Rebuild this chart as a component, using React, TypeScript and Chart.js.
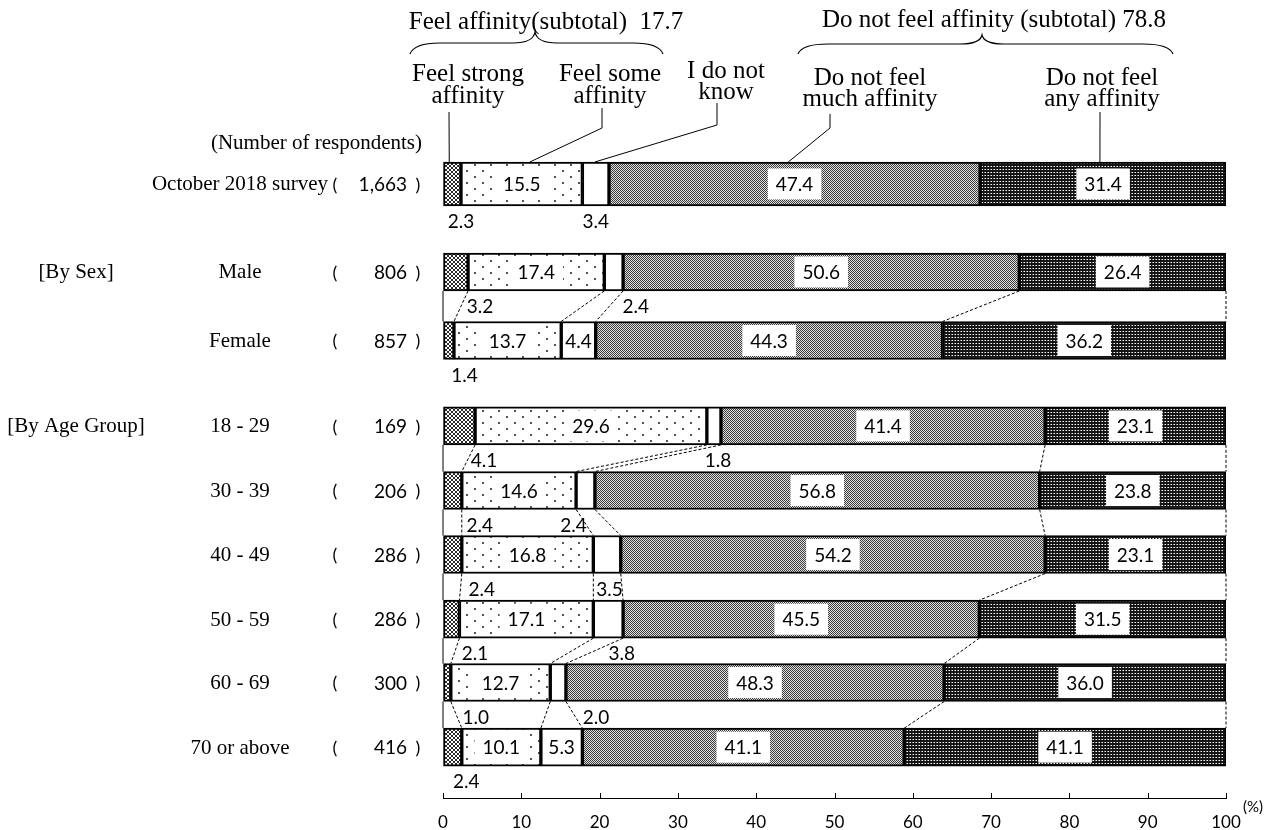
import React, { useEffect, useRef } from 'react';
import { Chart, registerables } from 'chart.js';

Chart.register(...registerables);

// ---------- data ----------
const categories = ['October 2018 survey', 'Male', 'Female', '18 - 29', '30 - 39', '40 - 49', '50 - 59', '60 - 69', '70 or above'];
const respondents = ['1,663', '806', '857', '169', '206', '286', '286', '300', '416'];
const seriesNames = ['Feel strong affinity', 'Feel some affinity', 'I do not know', 'Do not feel much affinity', 'Do not feel any affinity'];
const strongAffinity = [2.3, 3.2, 1.4, 4.1, 2.4, 2.4, 2.1, 1.0, 2.4];
const someAffinity = [15.5, 17.4, 13.7, 29.6, 14.6, 16.8, 17.1, 12.7, 10.1];
const doNotKnow = [3.4, 2.4, 4.4, 1.8, 2.4, 3.5, 3.8, 2.0, 5.3];
const notMuchAffinity = [47.4, 50.6, 44.3, 41.4, 56.8, 54.2, 45.5, 48.3, 41.1];
const notAnyAffinity = [31.4, 26.4, 36.2, 23.1, 23.8, 23.1, 31.5, 36.0, 41.1];
const affinitySubtotal = 17.7;
const noAffinitySubtotal = 78.8;
const groupLabels = ['[By Sex]', '[By Age Group]'];
const groupRows = [1, 3];

// ---------- layout (not data) ----------
const rowPos = [0, 1.375, 2.445, 3.78, 4.79, 5.79, 6.8, 7.79, 8.8];
const linkedPairs = [[1, 2], [3, 4], [4, 5], [5, 6], [6, 7], [7, 8]];
const strongLabelDx = [0, 12, 10.5, 9, 18, 20, 15.5, 25, 4.5];
const dkLabelDx = [0, 22, 0, 4, -12, 2.5, 13.5, 38, 0];

const SERIF = '"Liberation Serif", "Times New Roman", serif';
const SANS = 'Lato, "Liberation Sans", sans-serif';

function makePattern(w: number, h: number, draw: (g: CanvasRenderingContext2D) => void) {
  const c = document.createElement('canvas');
  c.width = w;
  c.height = h;
  const g = c.getContext('2d')!;
  draw(g);
  return g.createPattern(c, 'repeat')!;
}

function px(g: CanvasRenderingContext2D, x: number, y: number, col: string, w = 1, h = 1) {
  g.fillStyle = col;
  g.fillRect(x, y, w, h);
}

export default function App() {
  const ref = useRef<HTMLCanvasElement>(null);

  useEffect(() => {
    const canvas = ref.current!;
    const patterns = [
      makePattern(4, 4, (g) => {
        px(g, 0, 0, '#fff', 4, 4);
        for (let a = 0; a < 4; a++) for (let b = 0; b < 4; b++) if (a === b || a + b === 3) px(g, a, b, '#2a2a2a');
      }),
      makePattern(16, 12, (g) => {
        px(g, 0, 0, '#fff', 16, 12);
        px(g, 2, 2, '#555', 2, 2);
        px(g, 10, 8, '#555', 2, 2);
      }),
      '#ffffff',
      makePattern(2, 2, (g) => {
        px(g, 0, 0, '#e2e2e2', 2, 2);
        px(g, 0, 0, '#3a3a3a');
        px(g, 1, 1, '#3a3a3a');
      }),
      makePattern(3, 3, (g) => {
        px(g, 0, 0, '#151515', 3, 3);
        px(g, 1, 1, '#ffffff');
        px(g, 0, 1, '#8a8a8a');
      }),
    ];
    const series = [strongAffinity, someAffinity, doNotKnow, notMuchAffinity, notAnyAffinity];
    const cumOf = (i: number) => {
      const c = [0];
      for (let s = 0; s < 5; s++) c.push(c[s] + series[s][i]);
      return c;
    };
    const thick = (i: number) => (i === 0 ? 44 : 38);

    const datasets: any[] = [];
    for (let s = 0; s < 5; s++) {
      for (const grp of [0, 1]) {
        const data: any[] = [];
        categories.forEach((_, i) => {
          if ((i === 0) !== (grp === 0)) return;
          const c = cumOf(i);
          data.push({ y: rowPos[i], x: [c[s], c[s + 1]] });
        });
        datasets.push({
          label: seriesNames[s],
          data,
          backgroundColor: patterns[s],
          borderColor: '#000',
          borderWidth: 2,
          borderSkipped: false,
          barThickness: grp === 0 ? 44 : 38,
          grouped: false,
        });
      }
    }

    const text = (ctx: CanvasRenderingContext2D, s: string, x: number, y: number, font: string, align: CanvasTextAlign = 'center', base: CanvasTextBaseline = 'middle') => {
      ctx.font = font;
      ctx.textAlign = align;
      ctx.textBaseline = base;
      ctx.fillStyle = '#000';
      ctx.fillText(s, x, y);
    };

    const overlay = {
      id: 'overlay',
      afterDatasetsDraw(chart: any) {
        const { ctx, scales } = chart;
        const xs = scales.x;
        const ys = scales.y;
        const X = (v: number) => xs.getPixelForValue(v);
        const Yc = (i: number) => ys.getPixelForValue(rowPos[i]);
        ctx.save();
        // series connector lines
        ctx.lineWidth = 1;
        ctx.strokeStyle = '#000';
        linkedPairs.forEach(([u, l]) => {
          const cu = cumOf(u);
          const cl = cumOf(l);
          const yb = Yc(u) + thick(u) / 2;
          const yt = Yc(l) - thick(l) / 2;
          for (let k = 0; k <= 5; k++) {
            ctx.setLineDash(k === 0 ? [] : [3, 2]);
            ctx.beginPath();
            ctx.moveTo(X(cu[k]), yb);
            ctx.lineTo(X(cl[k]), yt);
            ctx.stroke();
          }
        });
        ctx.setLineDash([]);
        // value labels
        const lf = `19px ${SANS}`;
        categories.forEach((_, i) => {
          const c = cumOf(i);
          const yc = Yc(i);
          const bottom = yc + thick(i) / 2;
          for (const s of [1, 3, 4]) {
            const cx = (X(c[s]) + X(c[s + 1])) / 2;
            const str = series[s][i].toFixed(1);
            ctx.font = lf;
            const w = ctx.measureText(str).width + 16;
            ctx.fillStyle = '#fff';
            ctx.fillRect(cx - w / 2, yc - 15.5, w, 31);
            text(ctx, str, cx, yc + 1, lf);
          }
          const dk = doNotKnow[i];
          const dkc = (X(c[2]) + X(c[3])) / 2;
          if (dk >= 4) text(ctx, dk.toFixed(1), dkc, yc + 1, lf);
          else text(ctx, dk.toFixed(1), dkc + dkLabelDx[i], bottom + 16, lf);
          text(ctx, strongAffinity[i].toFixed(1), X(c[1]) + strongLabelDx[i], bottom + 16, lf);
        });
        ctx.restore();
      },
      afterDraw(chart: any) {
        const { ctx, scales, chartArea } = chart;
        const xs = scales.x;
        const ys = scales.y;
        const X = (v: number) => xs.getPixelForValue(v);
        const Yc = (i: number) => ys.getPixelForValue(rowPos[i]);
        ctx.save();
        // inner tick marks
        ctx.strokeStyle = '#000';
        ctx.lineWidth = 1;
        xs.ticks.forEach((t: any) => {
          const p = Math.round(X(t.value)) + 0.5;
          ctx.beginPath();
          ctx.moveTo(p, chartArea.bottom - 5);
          ctx.lineTo(p, chartArea.bottom);
          ctx.stroke();
        });
        text(ctx, '(%)', 1253, 807, `15px ${SANS}`);

        // left labels
        const rf = `21px ${SERIF}`;
        text(ctx, '(Number of respondents)', 422, 143, rf, 'right');
        categories.forEach((name, i) => {
          const yc = Yc(i) + 1;
          text(ctx, name, 240, yc, rf);
          text(ctx, '(', 335, yc, `18px ${SANS}`);
          text(ctx, respondents[i], 407, yc, `19px ${SANS}`, 'right');
          text(ctx, ')', 418, yc, `18px ${SANS}`);
        });
        groupLabels.forEach((g, k) => text(ctx, g, 76, Yc(groupRows[k]) + 1, rf));

        // header annotations
        const hf = `25px ${SERIF}`;
        const headers: [string[], number, number[]][] = [
          [[`Feel affinity(subtotal)  ${affinitySubtotal.toFixed(1)}`], 546, [29]],
          [[`Do not feel affinity (subtotal) ${noAffinitySubtotal.toFixed(1)}`], 994, [27]],
          [['Feel strong', 'affinity'], 468, [81, 103]],
          [['Feel some', 'affinity'], 610, [81, 103]],
          [['I do not', 'know'], 726, [78, 99]],
          [['Do not feel', 'much affinity'], 870, [85, 106]],
          [['Do not feel', 'any affinity'], 1102, [85, 106]],
        ];
        headers.forEach(([lines, x, yy]) => lines.forEach((l, k) => text(ctx, l, x, yy[k], hf, 'center', 'alphabetic')));

        // braces
        const brace = (x0: number, xm: number, x1: number, yTip: number, yMid: number, yEnd: number) => {
          ctx.beginPath();
          ctx.moveTo(x0, yEnd);
          ctx.quadraticCurveTo(x0 + 4, yMid, x0 + 30, yMid);
          ctx.lineTo(xm - 22, yMid);
          ctx.quadraticCurveTo(xm - 2, yMid, xm, yTip);
          ctx.quadraticCurveTo(xm + 2, yMid, xm + 22, yMid);
          ctx.lineTo(x1 - 30, yMid);
          ctx.quadraticCurveTo(x1 - 4, yMid, x1, yEnd);
          ctx.stroke();
        };
        ctx.lineWidth = 1.2;
        brace(410, 535, 663, 32, 43, 54);
        brace(798, 982, 1173, 35, 44, 54);

        // leader lines to first bar
        ctx.lineWidth = 1;
        const barTop = Yc(0) - thick(0) / 2;
        const leaders: [number[][], number][] = [
          [[[449, 112]], 0.8],
          [[[602, 108], [602, 128]], 11.1],
          [[[717, 103], [717, 125]], 19.4],
          [[[830, 114], [830, 128]], 44.1],
          [[[1100, 112]], 83.9],
        ];
        leaders.forEach(([pts, v]) => {
          ctx.beginPath();
          ctx.moveTo(pts[0][0], pts[0][1]);
          for (let k = 1; k < pts.length; k++) ctx.lineTo(pts[k][0], pts[k][1]);
          ctx.lineTo(X(v), barTop);
          ctx.stroke();
        });
        ctx.restore();
      },
    };

    const chart = new Chart(canvas, {
      type: 'bar',
      data: { datasets },
      options: {
        indexAxis: 'y',
        animation: false,
        responsive: false,
        devicePixelRatio: 1,
        layout: { padding: { left: 443, right: 46, top: 150, bottom: 0 } },
        plugins: { legend: { display: false }, tooltip: { enabled: false } },
        scales: {
          x: {
            type: 'linear',
            min: 0,
            max: 100,
            position: 'bottom',
            offset: false,
            ticks: { stepSize: 10, color: '#000', padding: 14, font: { family: 'Lato, "Liberation Sans", sans-serif', size: 17 } },
            grid: { drawOnChartArea: false, drawTicks: false },
            border: { display: true, color: '#000', width: 1 },
            afterFit: (s: any) => {
              s.height = 32;
            },
          },
          y: {
            type: 'linear',
            display: false,
            reverse: true,
            offset: false,
            min: -0.531,
            max: 9.594,
          },
        },
      } as any,
      plugins: [overlay],
    });
    return () => chart.destroy();
  }, []);

  return (
    <div style={{ position: 'fixed', left: 0, top: 0, width: 1272, height: 830, background: '#fff' }}>
      <canvas ref={ref} width={1272} height={830} style={{ display: 'block' }} />
    </div>
  );
}
